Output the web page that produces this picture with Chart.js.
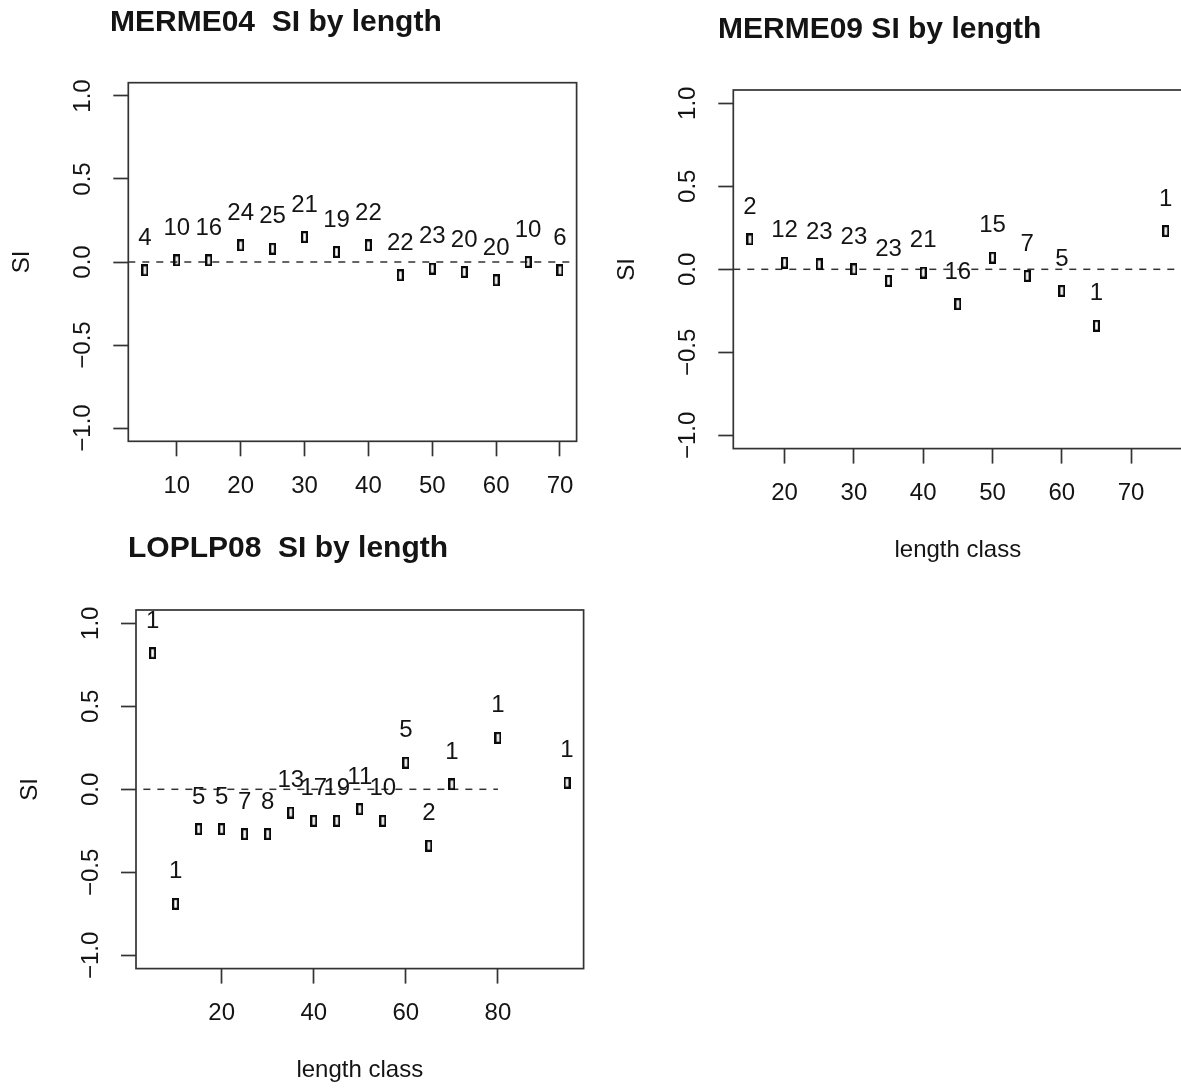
<!DOCTYPE html>
<html><head><meta charset="utf-8">
<script src="https://cdn.jsdelivr.net/npm/chart.js@4.4.1/dist/chart.umd.min.js"></script>
<style>
html,body{margin:0;padding:0;background:#fff;overflow:hidden;}
#wrap{position:relative;width:1181px;height:1088px;overflow:hidden;background:#fff;}
canvas{position:absolute;}
</style></head><body>
<div id="wrap"><canvas id="c1"></canvas><canvas id="c2"></canvas><canvas id="c3"></canvas></div>
<script>
// ---------------- data ----------------
const titleMERME04 = 'MERME04  SI by length';
const lengthMERME04 = [5,10,15,20,25,30,35,40,45,50,55,60,65,70];
const siMERME04 = [-0.05,0.01,0.01,0.10,0.08,0.15,0.06,0.10,-0.08,-0.04,-0.06,-0.11,0.00,-0.05];
const nMERME04 = [4,10,16,24,25,21,19,22,22,23,20,20,10,6];
const xTicksMERME04 = [10,20,30,40,50,60,70];

const titleMERME09 = 'MERME09 SI by length';
const lengthMERME09 = [15,20,25,30,35,40,45,50,55,60,65,75];
const siMERME09 = [0.18,0.04,0.03,0.00,-0.07,-0.02,-0.21,0.07,-0.04,-0.13,-0.34,0.23];
const nMERME09 = [2,12,23,23,23,21,16,15,7,5,1,1];
const xTicksMERME09 = [20,30,40,50,60,70];

const titleLOPLP08 = 'LOPLP08  SI by length';
const lengthLOPLP08 = [5,10,15,20,25,30,35,40,45,50,55,60,65,70,80,95];
const siLOPLP08 = [0.82,-0.69,-0.24,-0.24,-0.27,-0.27,-0.14,-0.19,-0.19,-0.12,-0.19,0.16,-0.34,0.03,0.31,0.04];
const nLOPLP08 = [1,1,5,5,7,8,13,17,19,11,10,5,2,1,1,1];
const xTicksLOPLP08 = [20,40,60,80];
const refLineLOPLP08 = [3,80];

const yTickValues = [-1,-0.5,0,0.5,1];
const yTickLabels = ['\u22121.0','\u22120.5','0.0','0.5','1.0'];
const yLimits = [-1,1];
const yAxisTitle = 'SI';
const xAxisTitle = 'length class';

// ---------------- style / layout ----------------
const FONT = "'Liberation Sans', Arial, Helvetica, sans-serif";
const INK = '#141414';
const LINE = '#333333';
const AX = 24, TS = 30;
Chart.defaults.font.family = FONT;
Chart.defaults.color = INK;

function makeMarker(){
  const c = document.createElement('canvas');
  c.width = 7; c.height = 12;
  const g = c.getContext('2d');
  g.strokeStyle = '#0a0a0a'; g.lineWidth = 2.2;
  g.strokeRect(1.1,1.1,4.8,9.8);
  return c;
}
const marker = makeMarker();

const mc = document.createElement('canvas').getContext('2d');
mc.font = AX + 'px ' + FONT;
const widestY = Math.max(...yTickLabels.map(t => mc.measureText(t).width));

const boxPlugin = {
  id: 'rbox',
  afterDraw(chart){
    const {ctx, chartArea:a} = chart;
    ctx.save(); ctx.strokeStyle = LINE; ctx.lineWidth = 1.7;
    ctx.strokeRect(a.left, a.top, a.right-a.left, a.bottom-a.top);
    ctx.restore();
  }
};
const countPlugin = {
  id: 'counts',
  afterDatasetsDraw(chart, args, opts){
    const {ctx} = chart;
    chart.data.datasets.forEach((ds,i) => {
      if (!ds.counts) return;
      const meta = chart.getDatasetMeta(i);
      ctx.save();
      ctx.font = AX + 'px ' + FONT; ctx.fillStyle = INK;
      ctx.textAlign = 'center'; ctx.textBaseline = 'middle';
      meta.data.forEach((pt,j) => ctx.fillText(String(ds.counts[j]), pt.x, pt.y - opts.offset));
      ctx.restore();
    });
  }
};
function zeroPad(s){ s.paddingLeft = 0; s.paddingRight = 0; s.paddingTop = 0; s.paddingBottom = 0; }

function makePanel(L, P){
  const cv = document.getElementById(L.id);
  cv.width = L.width; cv.height = L.height;
  cv.style.left = L.left + 'px'; cv.style.top = L.top + 'px';
  const xmin = Math.min(...P.x), xmax = Math.max(...P.x), ext = 0.04*(xmax-xmin);
  const yext = 0.04*(yLimits[1]-yLimits[0]);
  const padL = L.titleStart - L.left;
  const padR = L.left + L.width - L.box.r;
  const Wy = L.box.l - L.titleStart;
  const Hx = L.top + L.height - L.box.b;
  const tPadTop = L.titleMid - L.top - TS*1.2/2;
  const tPadBot = L.box.t - L.top - TS*1.2 - tPadTop;
  const yTitlePad = (L.box.l - 106) - L.titleStart - AX*1.2/2;
  const xTitlePad = Hx - AX*1.2/2 - 102;
  const refX = P.ref || [xmin-ext, xmax+ext];
  const grid = {display:true, drawOnChartArea:false, drawTicks:true, tickLength:15, tickWidth:1.7, tickColor:LINE};
  return new Chart(cv, {
    type: 'scatter',
    data: {datasets: [
      {type:'scatter', data: P.x.map((x,i)=>({x:x, y:P.y[i]})), counts: P.n,
       pointStyle: marker, pointRadius: 5, showLine:false},
      {type:'line', data: refX.map(x=>({x:x, y:0})), borderColor: LINE, borderWidth: 1.5,
       borderDash:[7,7], pointRadius:0, fill:false, tension:0}
    ]},
    options: {
      responsive:false, animation:false, events:[],
      layout:{autoPadding:false, padding:{left:padL, right:padR, top:0, bottom:0}},
      plugins:{
        legend:{display:false}, tooltip:{enabled:false},
        title:{display:true, text:P.title, align:'start', color:INK,
               font:{size:TS, weight:'bold', lineHeight:1.2}, padding:{top:tPadTop, bottom:tPadBot}},
        counts:{offset:32}
      },
      scales:{
        x:{type:'linear', position:'bottom', min:xmin-ext, max:xmax+ext,
           afterBuildTicks: s => { s.ticks = P.xticks.map(v=>({value:v})); },
           ticks:{callback: v => String(v), font:{size:AX, lineHeight:1.2}, color:INK, padding:15.6,
                  maxRotation:0, minRotation:0, autoSkip:false},
           grid: grid, border:{display:false},
           title:{display: !!L.xTitle, text: L.xTitle || '', color:INK, font:{size:AX, lineHeight:1.2},
                  padding:{top:0, bottom:xTitlePad}},
           afterFit: s => { s.height = Hx; zeroPad(s); }},
        y:{type:'linear', position:'left', min:yLimits[0]-yext, max:yLimits[1]+yext,
           afterBuildTicks: s => { s.ticks = yTickValues.map(v=>({value:v})); },
           ticks:{callback: v => yTickLabels[yTickValues.indexOf(v)], font:{size:AX, lineHeight:1.2}, color:INK,
                  mirror:true, padding: -45 - widestY/2, minRotation:90, maxRotation:90,
                  crossAlign:'center', autoSkip:false},
           grid: grid, border:{display:false},
           title:{display:true, text:yAxisTitle, color:INK, font:{size:AX, lineHeight:1.2},
                  padding:{top:yTitlePad, bottom:0}},
           afterFit: s => { s.width = Wy; zeroPad(s); }}
      }
    },
    plugins:[boxPlugin, countPlugin]
  });
}

makePanel({id:'c1', left:0, top:0, width:590, height:522, titleStart:110, titleMid:23,
           box:{l:128.3, t:82.7, r:576.6, b:441.3}, xTitle:null},
          {title:titleMERME04, x:lengthMERME04, y:siMERME04, n:nMERME04, xticks:xTicksMERME04});
makePanel({id:'c2', left:600, top:0, width:590, height:590, titleStart:718, titleMid:30,
           box:{l:733.3, t:90, r:1182.4, b:448.6}, xTitle:xAxisTitle},
          {title:titleMERME09, x:lengthMERME09, y:siMERME09, n:nMERME09, xticks:xTicksMERME09});
makePanel({id:'c3', left:0, top:500, width:595, height:588, titleStart:128, titleMid:548.5,
           box:{l:136, t:610, r:583.6, b:968.6}, xTitle:xAxisTitle},
          {title:titleLOPLP08, x:lengthLOPLP08, y:siLOPLP08, n:nLOPLP08, xticks:xTicksLOPLP08, ref:refLineLOPLP08});
</script>
</body></html>
